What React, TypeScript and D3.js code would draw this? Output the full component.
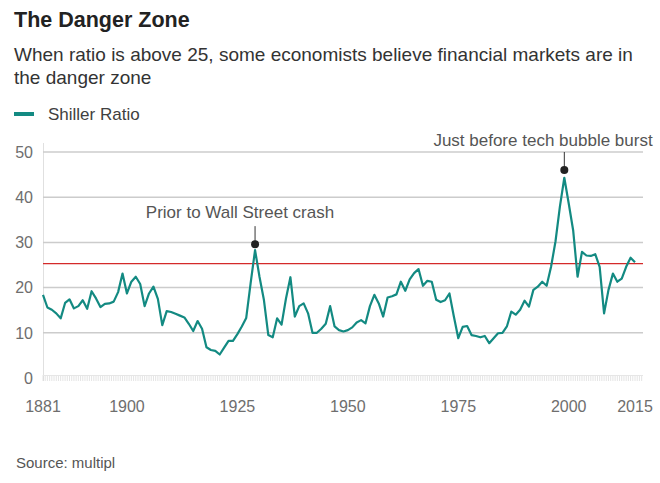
import React from "react";
import * as d3 from "d3";

const title = "The Danger Zone";
const subtitleLines = [
  "When ratio is above 25, some economists believe financial markets are in",
  "the danger zone",
];
const seriesName = "Shiller Ratio";
const source = "Source: multipl";

const startYear = 1881;
const shillerValues = [
  18.4, 15.6, 15.1, 14.3, 13.2, 16.6, 17.4, 15.4, 15.9, 17.2,
  15.3, 19.2, 17.6, 15.7, 16.4, 16.5, 16.9, 19.0, 23.1, 18.7,
  21.3, 22.4, 20.8, 15.9, 18.7, 20.2, 17.5, 11.7, 14.8, 14.6,
  14.2, 13.8, 13.4, 12.0, 10.4, 12.6, 10.9, 6.8, 6.2, 6.0,
  5.2, 6.7, 8.2, 8.2, 9.7, 11.4, 13.3, 21.0, 28.3, 22.4,
  17.3, 9.5, 9.0, 13.2, 11.8, 17.6, 22.3, 13.6, 15.9, 16.5,
  14.3, 10.0, 10.0, 10.9, 12.0, 15.9, 11.4, 10.6, 10.3, 10.6,
  11.2, 12.3, 12.8, 12.1, 15.9, 18.4, 16.5, 13.6, 17.8, 18.1,
  18.5, 21.3, 19.3, 21.8, 23.2, 24.1, 20.4, 21.5, 21.3, 17.3,
  16.8, 17.2, 18.7, 13.6, 8.8, 11.3, 11.5, 9.5, 9.3, 9.0,
  9.3, 7.7, 8.8, 9.9, 10.0, 11.4, 14.7, 14.0, 15.1, 17.1,
  15.8, 19.5, 20.2, 21.3, 20.4, 24.6, 30.2, 37.9, 44.3, 38.6,
  32.7, 22.4, 27.9, 27.1, 27.0, 27.4, 24.6, 14.3, 19.5, 23.1,
  21.3, 22.0, 24.6, 26.6, 25.6,
];
const years = shillerValues.map((_, i) => startYear + i);

const yTicks = [0, 10, 20, 30, 40, 50];
const xTicks = [1881, 1900, 1925, 1950, 1975, 2000, 2015];
const dangerThreshold = 25.3;

const annotations = [
  { year: 1929, value: 29.6, lineTop: 33.6, label: "Prior to Wall Street crash", labelX: 240, labelValue: 35.5 },
  { year: 1999, value: 46.0, lineTop: 50, label: "Just before tech bubble burst", labelX: 543, labelValue: 51.3 },
];

const FONT = "'Liberation Sans', Arial, Helvetica, sans-serif";

export default function App() {
  const width = 660;
  const height = 483;
  const x = d3.scaleLinear().domain([1881, 2015]).range([43, 635]);
  const y = d3.scaleLinear().domain([0, 50]).range([378, 152]);
  const plotRight = 643;

  const line = d3
    .line<number>()
    .x((_, i) => x(years[i]))
    .y((d) => y(d));

  const minorTicks = d3.range(1881, 2016.6, 0.5);
  const redY = y(dangerThreshold);

  return (
    <svg width={width} height={height} style={{ position: "absolute", left: 0, top: 0, background: "#fff" }}>
      <rect width={width} height={height} fill="#fff" />
      <text x={14} y={27} fontFamily={FONT} fontWeight="bold" fontSize={21.5} fill="#222">
        {title}
      </text>
      {subtitleLines.map((s, i) => (
        <text key={i} x={14} y={61 + i * 23} fontFamily={FONT} fontSize={19} fill="#333">
          {s}
        </text>
      ))}
      <rect x={14} y={112} width={20} height={4} fill="#138a82" />
      <text x={48} y={120} fontFamily={FONT} fontSize={17} fill="#404040">
        {seriesName}
      </text>

      <line x1={43.5} x2={43.5} y1={143} y2={381} stroke="#e0e0e0" strokeWidth={1} />

      {yTicks.map((t) => (
        <g key={t}>
          {t > 0 && (
            <line x1={43} x2={plotRight} y1={y(t)} y2={y(t)} stroke="#cccccc" strokeWidth={1.5} />
          )}
          <text
            x={33}
            y={y(t)}
            dy="0.36em"
            textAnchor="end"
            fontFamily={FONT}
            fontSize={16}
            fill="#6e6e6e"
          >
            {t}
          </text>
        </g>
      ))}

      {minorTicks.map((t, i) => (
        <line
          key={i}
          x1={x(t)}
          x2={x(t)}
          y1={375}
          y2={381}
          stroke="#dddddd"
          strokeWidth={0.8}
        />
      ))}
      <line x1={43} x2={plotRight} y1={375.5} y2={375.5} stroke="#e6e6e6" strokeWidth={1} />

      {xTicks.map((t) => (
        <text
          key={t}
          x={x(t)}
          y={412}
          textAnchor="middle"
          fontFamily={FONT}
          fontSize={16}
          fill="#6e6e6e"
        >
          {t}
        </text>
      ))}

      <line
        x1={43}
        x2={plotRight}
        y1={redY}
        y2={redY}
        stroke="#d42a2a"
        strokeWidth={1.4}
      />

      <path d={line(shillerValues) || ""} fill="none" stroke="#138a82" strokeWidth={2.2} strokeLinejoin="round" />

      {annotations.map((a) => (
        <g key={a.label}>
          <line x1={x(a.year)} x2={x(a.year)} y1={y(a.lineTop)} y2={y(a.value)} stroke="#333" strokeWidth={1} />
          <circle cx={x(a.year)} cy={y(a.value)} r={4} fill="#222" />
          <text x={a.labelX} y={y(a.labelValue)} textAnchor="middle" fontFamily={FONT} fontSize={17} fill="#555">
            {a.label}
          </text>
        </g>
      ))}

      <text x={16} y={468} fontFamily={FONT} fontSize={15} fill="#555">
        {source}
      </text>
    </svg>
  );
}
